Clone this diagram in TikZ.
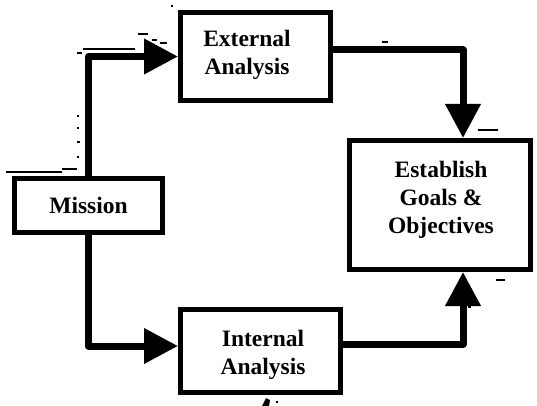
\documentclass[tikz,border=0pt]{standalone}
\usepackage{fontspec}
\setmainfont{Liberation Serif}
\usetikzlibrary{arrows.meta,positioning}
\begin{document}
\begin{tikzpicture}[x=1pt,y=-1pt,
  box/.style={draw=black,line width=5pt,fill=white,align=center,inner sep=0pt,
    font=\fontsize{23.5}{27}\selectfont\bfseries},
  lbl/.style={align=center,inner sep=0pt,font=\fontsize{23.5}{28}\selectfont\bfseries},
  conn/.style={line width=7pt,line join=round,
    -{Triangle[length=34pt,width=34pt]}},
  speck/.style={line width=1.3pt}]
\useasboundingbox (0,0) rectangle (537,406);
\node[box,minimum width=148pt,minimum height=54pt] (mis) at (88.5,205.5) {Mission};
\node[box,minimum width=150pt,minimum height=88pt] (ext) at (255.5,56.5) {};
\node[lbl] (extt) at (247,55) {External\\Analysis};
\node[box,minimum width=160pt,minimum height=83pt] (int) at (260.5,351) {};
\node[lbl] (intt) at (263,355) {Internal\\Analysis};
\node[box,minimum width=181pt,minimum height=129pt] (est) at (440,205) {};
\node[lbl] (estt) at (441,200) {Establish\\Goals \&\\Objectives};
\draw[conn] (mis.north) |- (ext.west);
\draw[conn] (mis.south) |- ([yshift=5pt]int.west);
\draw[conn] ([yshift=6.5pt]ext.east) -| ([xshift=23pt]est.north);
\draw[conn] ([yshift=7pt]int.east) -| ([xshift=23pt]est.south);
% stray scan marks
\draw[speck] (83,49) -- (135,49);
\draw[speck] (77,53) -- (82,53);
\draw[speck] (138,34) -- (148,34);
\draw[speck] (152,40) -- (157,40);
\draw[speck] (160,43) -- (167,43);
\draw[speck] (6,172) -- (62,172);
\draw[speck] (62,169) -- (77,169);
\draw[speck] (77,116) -- (79,116);
\draw[speck] (77,128) -- (79,128);
\draw[speck] (77,142) -- (80,142);
\draw[speck] (77,157) -- (79,157);
\draw[speck] (171,6) -- (173,6);
\draw[speck] (382,42) -- (388,42);
\draw[speck] (478,130) -- (498,130);
\draw[speck] (496,280) -- (505,280);
\draw[speck] (468,307) -- (471,307);
\fill (262,406) -- (266,398) -- (270,400) -- (269,406) -- cycle;
\draw[speck] (276,402) -- (278,402);
\end{tikzpicture}
\end{document}
